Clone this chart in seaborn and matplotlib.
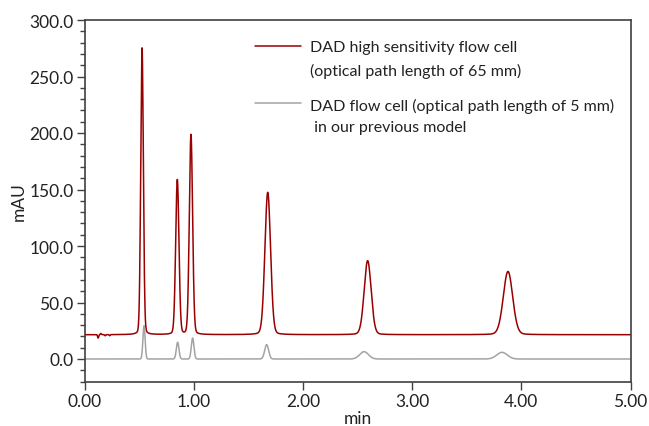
import numpy as np
import pandas as pd
import matplotlib
matplotlib.use("Agg")
import matplotlib.pyplot as plt
import seaborn as sns
from matplotlib.ticker import MultipleLocator, FormatStrFormatter

# peak tables (retention time in min, height in mAU, width sigma in min)
hs_rt = [0.527, 0.850, 0.975, 1.678, 2.593, 3.878]
hs_height = [254, 137, 177, 126, 65.5, 56]
hs_sigma = [0.012, 0.015, 0.015, 0.026, 0.032, 0.043]
hs_baseline = 21.5
# small baseline disturbance at start of the run
hs_noise_rt = [0.125, 0.15, 0.19, 0.23]
hs_noise_amp = [-3.0, 1.0, -1.0, -1.0]

std_rt = [0.545, 0.853, 0.990, 1.668, 2.560, 3.823]
std_height = [29.5, 14.8, 18.6, 12.7, 6.5, 5.9]
std_sigma = [0.010, 0.012, 0.012, 0.018, 0.040, 0.048]
std_baseline = 0.0

label_hs = "DAD high sensitivity flow cell\n(optical path length of 65 mm)"
label_std = "DAD flow cell (optical path length of 5 mm)\n in our previous model"

FS = 12.5     # ticks / axis labels
FS_LEG = 11.5


def trace(t, base, rts, hts, sig, lor=0.0):
    y = np.full_like(t, base)
    for r, h, s in zip(rts, hts, sig):
        g = np.exp(-0.5 * ((t - r) / s) ** 2)
        gam = 1.1774 * s
        l = 1.0 / (1.0 + ((t - r) / gam) ** 2)
        y += h * ((1 - lor) * g + lor * l)
    return y


t = np.linspace(0, 5, 4001)
y_hs = trace(t, hs_baseline, hs_rt, hs_height, hs_sigma, lor=0.1)
y_hs += trace(t, 0.0, hs_noise_rt, hs_noise_amp, [0.005] * len(hs_noise_rt))
y_std = trace(t, std_baseline, std_rt, std_height, std_sigma)

df = pd.concat([
    pd.DataFrame({"min": t, "mAU": y_hs, "cell": label_hs}),
    pd.DataFrame({"min": t, "mAU": y_std, "cell": label_std}),
])

sns.set_theme(style="white")
plt.rcParams["font.family"] = ["Lato", "DejaVu Sans"]

fig = plt.figure(figsize=(6.49, 4.27), dpi=100)
ax = fig.add_axes([84.5 / 649, 1 - 382.6 / 427, (630.5 - 84.5) / 649, (382.6 - 21) / 427])

sns.lineplot(data=df, x="min", y="mAU", hue="cell",
             palette={label_hs: "#990000", label_std: "#a3a3a3"},
             linewidth=1.1, ax=ax, sort=False)

ax.set_xlim(0, 5)
ax.set_ylim(-20, 300)
ax.xaxis.set_major_locator(MultipleLocator(1))
ax.xaxis.set_major_formatter(FormatStrFormatter("%.2f"))
ax.yaxis.set_major_locator(MultipleLocator(50))
ax.yaxis.set_minor_locator(MultipleLocator(10))
ax.yaxis.set_major_formatter(FormatStrFormatter("%.1f"))
ax.tick_params(axis="both", which="major", direction="out", length=6, width=1,
               color="#404040", labelsize=FS, labelcolor="#222222", pad=2)
ax.tick_params(axis="y", which="minor", direction="out", length=3.5, width=1, color="#404040")
ax.tick_params(left=True, bottom=True, which="both")
for s in ax.spines.values():
    s.set_color("#404040")
    s.set_linewidth(1.2)

ax.set_xlabel("min", fontsize=FS, labelpad=1, color="#222222")
ax.set_ylabel("mAU", fontsize=FS, labelpad=2, color="#222222")

leg = ax.legend(title=None, loc="upper left", bbox_to_anchor=(255 / 649, 1 - 41 / 427),
                bbox_transform=fig.transFigure, frameon=False, fontsize=FS_LEG,
                handlelength=2.9, handletextpad=0.55, labelspacing=1.25,
                borderaxespad=0, borderpad=0)
for txt in leg.get_texts():
    txt.set_linespacing(1.7)
    txt.set_color("#222222")
# put the legend line next to the first line of each label
for col in leg._legend_handle_box.get_children():
    for row in col.get_children():
        row.align = "top"

fig.savefig("out.png", dpi=100)
